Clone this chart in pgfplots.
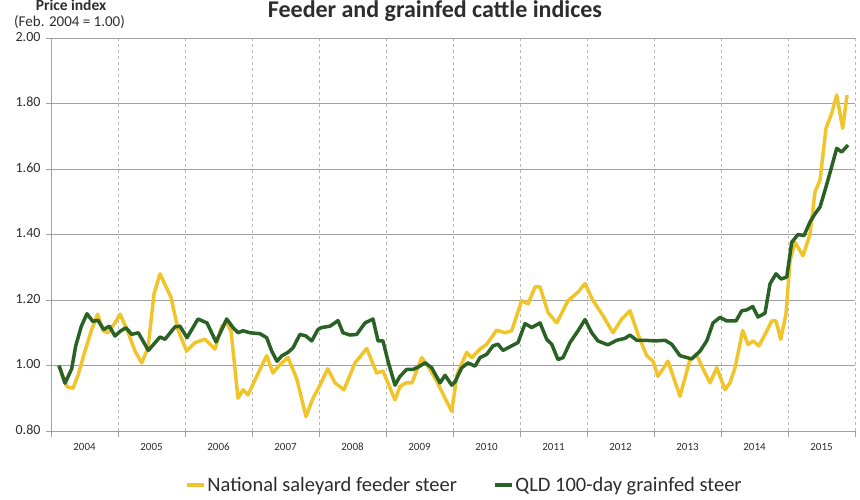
\documentclass[border=0pt]{standalone}
\usepackage{fontspec}
\setmainfont{Carlito}
\usepackage{pgfplots}
\pgfplotsset{compat=1.18}
\definecolor{yel}{RGB}{240,196,42}
\definecolor{grn}{RGB}{42,98,38}
\definecolor{gridgray}{RGB}{160,160,160}
\definecolor{dashgray}{RGB}{185,185,185}
\definecolor{txt}{RGB}{45,45,45}
\begin{document}
\begin{tikzpicture}
\useasboundingbox (0pt,0pt) rectangle (860pt,500pt);
\node[font=\bfseries\fontsize{24}{28}\selectfont, anchor=base, text=txt, inner sep=0pt] at (435pt,482pt) {Feeder and grainfed cattle indices};
\node[font=\bfseries\fontsize{15.5}{18}\selectfont, anchor=base, text=txt, inner sep=0pt] at (71pt,489pt) {Price index};
\node[font=\fontsize{15}{18}\selectfont, anchor=base west, text=txt, inner sep=0pt] at (14pt,473pt) {(Feb. 2004 = 1.00)};
\begin{axis}[
  at={(51pt,69pt)}, anchor=south west,
  width=804pt, height=393pt, scale only axis,
  xmin=2004, xmax=2016, ymin=0.8, ymax=2.0,
  axis x line*=bottom, axis y line*=left,
  axis line style={draw=gridgray, line width=0.8pt, -},
  typeset ticklabels with strut,
  xtick={2004.5,2005.5,2006.5,2007.5,2008.5,2009.5,2010.5,2011.5,2012.5,2013.5,2014.5,2015.5},
  xticklabels={2004,2005,2006,2007,2008,2009,2010,2011,2012,2013,2014,2015},
  x tick style={draw=none},
  minor xtick={2004,2005,2006,2007,2008,2009,2010,2011,2012,2013,2014,2015,2016},
  minor x tick style={draw=gridgray, line width=0.8pt},
  minor tick length=6pt,
  major tick length=5pt,
  tick align=outside,
  xminorgrids=true,
  minor x grid style={draw=dashgray, line width=0.6pt, dash pattern=on 3pt off 3pt},
  ytick={0.8,1,1.2,1.4,1.6,1.8,2},
  y tick style={draw=gridgray, line width=0.8pt},
  ymajorgrids=true,
  major y grid style={draw=gridgray, line width=0.8pt},
  yticklabel style={/pgf/number format/fixed, /pgf/number format/fixed zerofill, /pgf/number format/precision=2, /pgf/number format/assume math mode=true},
  y tick label style={font=\fontsize{14}{16}\selectfont, text=txt, xshift=-2pt},
  x tick label style={font=\fontsize{11}{13}\selectfont, text=txt, yshift=-2pt},
  legend columns=2,
  legend style={at={(0.514,-0.137)}, anchor=center, draw=none, fill=none,
    font=\fontsize{20.5}{24}\selectfont, text=txt,
    /tikz/every even column/.append style={column sep=34pt}},
  legend image code/.code={\draw[#1] (0pt,0pt) -- (17pt,0pt);},
]
\addplot[yel, line width=3.5pt, line join=round, mark=none] coordinates {
(2004.119,1.000) (2004.234,0.936) (2004.328,0.930) (2004.403,0.970) (2004.507,1.044)
(2004.607,1.110) (2004.697,1.157) (2004.776,1.106) (2004.851,1.100) (2004.955,1.130)
(2005.030,1.157) (2005.134,1.110) (2005.254,1.044) (2005.354,1.008) (2005.448,1.054)
(2005.537,1.218) (2005.627,1.280) (2005.791,1.208) (2005.900,1.106) (2006.025,1.044)
(2006.149,1.070) (2006.299,1.080) (2006.448,1.050) (2006.548,1.120) (2006.622,1.130)
(2006.687,1.106) (2006.791,0.900) (2006.866,0.926) (2006.940,0.910) (2007.070,0.967)
(2007.219,1.030) (2007.313,0.977) (2007.418,1.003) (2007.537,1.024) (2007.667,0.960)
(2007.806,0.844) (2007.910,0.900) (2008.015,0.940) (2008.130,0.990) (2008.239,0.947)
(2008.373,0.926) (2008.537,1.008) (2008.712,1.052) (2008.861,0.977) (2008.955,0.983)
(2009.134,0.895) (2009.209,0.936) (2009.299,0.947) (2009.388,0.947) (2009.533,1.024)
(2009.627,0.998) (2009.757,0.952) (2009.881,0.900) (2009.981,0.860) (2010.060,0.972)
(2010.204,1.040) (2010.279,1.024) (2010.403,1.050) (2010.503,1.065) (2010.652,1.108)
(2010.776,1.100) (2010.876,1.106) (2011.025,1.198) (2011.119,1.188) (2011.224,1.240)
(2011.299,1.240) (2011.418,1.162) (2011.548,1.130) (2011.716,1.198) (2011.866,1.224)
(2011.970,1.250) (2012.090,1.198) (2012.239,1.152) (2012.388,1.100) (2012.518,1.142)
(2012.642,1.167) (2012.761,1.095) (2012.891,1.030) (2012.985,1.013) (2013.060,0.967)
(2013.209,1.013) (2013.388,0.906) (2013.537,1.018) (2013.637,1.034) (2013.712,0.998)
(2013.836,0.947) (2013.936,0.993) (2014.060,0.926) (2014.134,0.947) (2014.209,0.993)
(2014.324,1.107) (2014.403,1.064) (2014.478,1.075) (2014.567,1.060) (2014.682,1.105)
(2014.757,1.136) (2014.821,1.136) (2014.891,1.080) (2014.970,1.157) (2015.030,1.320)
(2015.104,1.376) (2015.224,1.335) (2015.328,1.400) (2015.403,1.530) (2015.478,1.566)
(2015.567,1.724) (2015.652,1.770) (2015.727,1.826) (2015.816,1.724) (2015.881,1.826)
};
\addlegendentry{National saleyard feeder steer}
\addplot[grn, line width=3.5pt, line join=round, mark=none] coordinates {
(2004.119,1.000) (2004.209,0.946) (2004.309,0.990) (2004.369,1.060) (2004.453,1.120)
(2004.537,1.158) (2004.622,1.135) (2004.701,1.138) (2004.786,1.110) (2004.871,1.120)
(2004.955,1.090) (2005.035,1.105) (2005.119,1.115) (2005.204,1.095) (2005.303,1.100)
(2005.453,1.046) (2005.627,1.087) (2005.701,1.080) (2005.851,1.118) (2005.925,1.120)
(2006.030,1.085) (2006.194,1.142) (2006.328,1.130) (2006.463,1.072) (2006.622,1.142)
(2006.716,1.116) (2006.791,1.100) (2006.866,1.106) (2006.970,1.100) (2007.119,1.097)
(2007.219,1.085) (2007.294,1.044) (2007.373,1.013) (2007.448,1.030) (2007.537,1.040)
(2007.612,1.054) (2007.716,1.095) (2007.806,1.090) (2007.891,1.075) (2007.985,1.110)
(2008.040,1.116) (2008.164,1.120) (2008.284,1.137) (2008.358,1.100) (2008.463,1.093)
(2008.563,1.095) (2008.687,1.130) (2008.806,1.142) (2008.881,1.075) (2008.955,1.075)
(2009.030,1.013) (2009.134,0.940) (2009.209,0.967) (2009.309,0.988) (2009.403,0.988)
(2009.478,0.995) (2009.582,1.008) (2009.682,0.993) (2009.806,0.947) (2009.881,0.970)
(2009.981,0.940) (2010.030,0.950) (2010.130,0.993) (2010.224,1.008) (2010.328,0.998)
(2010.403,1.024) (2010.503,1.034) (2010.597,1.060) (2010.672,1.065) (2010.746,1.046)
(2010.876,1.060) (2010.970,1.070) (2011.075,1.128) (2011.175,1.116) (2011.299,1.130)
(2011.399,1.080) (2011.473,1.065) (2011.567,1.018) (2011.642,1.024) (2011.746,1.070)
(2011.866,1.106) (2011.970,1.140) (2012.070,1.100) (2012.164,1.075) (2012.313,1.063)
(2012.443,1.077) (2012.567,1.083) (2012.642,1.093) (2012.742,1.077) (2012.866,1.077)
(2013.015,1.075) (2013.164,1.077) (2013.264,1.065) (2013.388,1.030) (2013.563,1.020)
(2013.687,1.044) (2013.787,1.075) (2013.881,1.130) (2013.985,1.147) (2014.085,1.136)
(2014.224,1.136) (2014.309,1.167) (2014.388,1.170) (2014.473,1.180) (2014.552,1.148)
(2014.657,1.160) (2014.731,1.249) (2014.821,1.280) (2014.896,1.264) (2014.981,1.270)
(2015.055,1.376) (2015.149,1.400) (2015.239,1.397) (2015.328,1.438) (2015.403,1.463)
(2015.478,1.484) (2015.567,1.545) (2015.652,1.607) (2015.727,1.663) (2015.801,1.652)
(2015.896,1.673)
};
\addlegendentry{QLD 100-day grainfed steer}
\end{axis}
\end{tikzpicture}
\end{document}
